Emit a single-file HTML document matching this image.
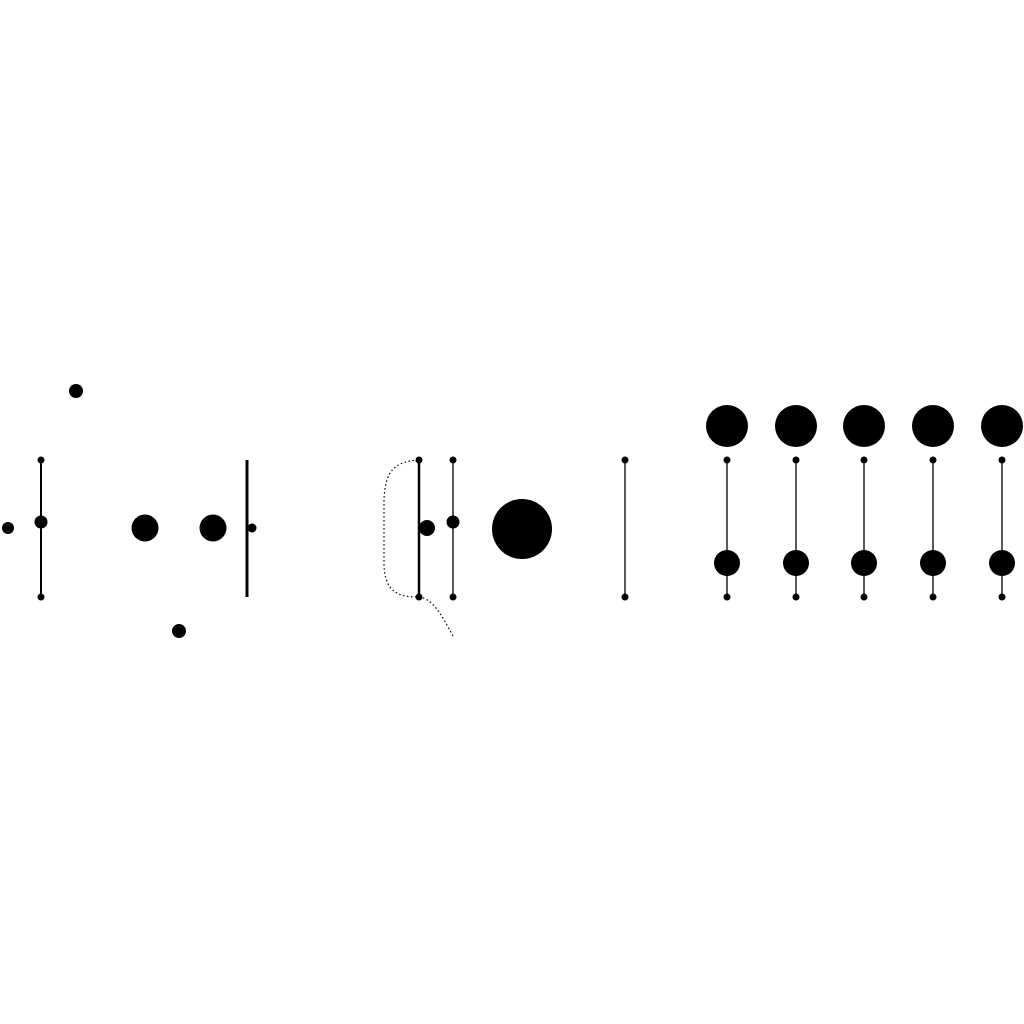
<!DOCTYPE html>
<html><head><meta charset="utf-8"><title>Diagram</title>
<style>html,body{margin:0;padding:0;background:#fff;width:1024px;height:1024px;overflow:hidden}svg{display:block}</style>
</head><body>
<svg id="chart" width="1024" height="1024" viewBox="0 0 1024 1024">
<path d="M418,460 C395,462 385,470 384,500 L384,565 C385,592 398,597 418,597 C432,598 440,612 453,636" fill="none" stroke="#000" stroke-width="1.2" stroke-dasharray="1.5,2.5"/>
</svg>
<script>
// vertical lines: x, top, bottom, width, endDots
const lineX = [41, 247, 419, 453, 625];
const lineTop = [460, 460, 460, 460, 460];
const lineBottom = [597, 597, 597, 597, 597];
const lineWidth = [2, 3, 2.5, 1.3, 1.3];
const lineEndDots = [1, 0, 1, 1, 1];
// free dots
const dotX = [76, 8, 41, 145, 213, 252, 179, 427, 453, 522];
const dotY = [391, 528, 522, 528, 528, 528, 631, 528, 522, 529];
const dotR = [7, 6, 6.5, 13.5, 13.5, 4.5, 7, 8, 6.5, 30];
// repeated columns on the right
const colX = [727, 796, 864, 933, 1002];
const colTopR = [21, 21, 21, 21, 21];
const colLowR = [13, 13, 13, 13, 13];

const svg = document.getElementById('chart');
const NS = 'http://www.w3.org/2000/svg';
function circ(x, y, r) {
  const c = document.createElementNS(NS, 'circle');
  c.setAttribute('cx', x); c.setAttribute('cy', y); c.setAttribute('r', r);
  c.setAttribute('fill', '#000');
  svg.appendChild(c); return c;
}
function line(x, y1, y2, w) {
  const l = document.createElementNS(NS, 'line');
  l.setAttribute('x1', x); l.setAttribute('x2', x);
  l.setAttribute('y1', y1); l.setAttribute('y2', y2);
  l.setAttribute('stroke', '#000'); l.setAttribute('stroke-width', w);
  svg.appendChild(l); return l;
}
lineX.forEach((x, i) => {
  const l = line(x, lineTop[i], lineBottom[i], lineWidth[i]);
  
  
  if (lineEndDots[i]) {
    const a = circ(x, lineTop[i], 3.5);
    
    
    const b = circ(x, lineBottom[i], 3.5);
    
    
  }
});
dotX.forEach((x, i) => {
  const c = circ(x, dotY[i], dotR[i]);
  
  
});
colX.forEach((x, i) => {
  const l = line(x, 463, 597, 1.3);
  
  
  const t = circ(x, 426, colTopR[i]);
  
  
  const d1 = circ(x, 460, 3.5);
  
  
  const d2 = circ(x, 597, 3.5);
  
  
  const m = circ(x, 563, colLowR[i]);
  
  
});
</script>
</body></html>
